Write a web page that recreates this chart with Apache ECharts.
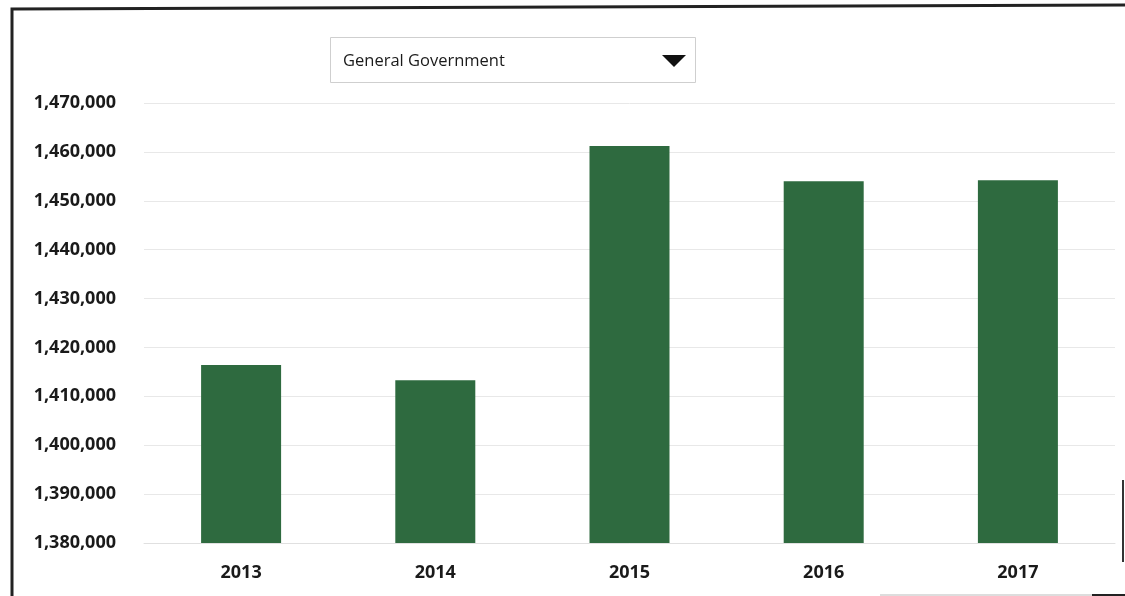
<!DOCTYPE html>
<html>
<head>
<meta charset="utf-8">
<script src="https://cdn.jsdelivr.net/npm/echarts@6/dist/echarts.min.js"></script>
<style>
  html, body { margin: 0; padding: 0; background: #ffffff; }
  #chart { width: 1125px; height: 596px; }
</style>
</head>
<body>
<div id="chart"></div>
<script>
// Yearly totals for the selected sector
const years = ['2013', '2014', '2015', '2016', '2017'];
const totals = [1416400, 1413300, 1461200, 1454000, 1454200];
const sectorName = 'General Government';

// Value axis range
const axisMin = 1380000;
const axisMax = 1470000;
const axisStep = 10000;

const chart = echarts.init(document.getElementById('chart'), null, { renderer: 'canvas' });

const labelFont = '"Open Sans", "Liberation Sans", sans-serif';

chart.setOption({
  backgroundColor: '#ffffff',
  animation: false,
  grid: { left: 144, right: 10, top: 103, bottom: 53, containLabel: false },
  xAxis: {
    type: 'category',
    data: years,
    axisLine: { show: true, lineStyle: { color: '#e0e0e0', width: 1 } },
    axisTick: { show: false },
    axisLabel: {
      margin: 21,
      color: '#1a1a1a',
      fontSize: 18,
      fontWeight: 'bold',
      fontFamily: labelFont
    }
  },
  yAxis: {
    type: 'value',
    min: axisMin,
    max: axisMax,
    interval: axisStep,
    axisLine: { show: false },
    axisTick: { show: false },
    splitLine: { lineStyle: { color: '#e8e8e8', width: 1 } },
    axisLabel: {
      margin: 28,
      color: '#1a1a1a',
      fontSize: 18,
      fontWeight: 'bold',
      fontFamily: labelFont,
      formatter: v => v.toLocaleString('en-US')
    }
  },
  series: [{
    type: 'bar',
    data: totals,
    barWidth: 80,
    itemStyle: { color: '#2e6a3f' }
  }],
  graphic: [
    // outer frame: left and top edges
    { type: 'polyline', shape: { points: [[12, 596], [12, 9], [1125, 5]] },
      style: { stroke: '#222222', lineWidth: 3, fill: null } },
    // right edge fragment and bottom edge fragment
    { type: 'line', shape: { x1: 1123, y1: 480, x2: 1123, y2: 562 },
      style: { stroke: '#333333', lineWidth: 2 } },
    { type: 'line', shape: { x1: 880, y1: 595, x2: 1092, y2: 595 },
      style: { stroke: '#bbbbbb', lineWidth: 1 } },
    { type: 'line', shape: { x1: 1092, y1: 595, x2: 1125, y2: 595 },
      style: { stroke: '#222222', lineWidth: 2 } },
    // sector selector
    { type: 'rect', shape: { x: 330.5, y: 37.5, width: 365, height: 45 },
      style: { fill: '#ffffff', stroke: '#cfcfcf', lineWidth: 1 } },
    { type: 'text', left: 343, top: 53,
      style: { text: sectorName, fill: '#1a1a1a', fontSize: 16.5, fontFamily: labelFont } },
    { type: 'polygon', shape: { points: [[662, 55], [686, 55], [674, 67]] },
      style: { fill: '#111111' } }
  ]
});
</script>
</body>
</html>
